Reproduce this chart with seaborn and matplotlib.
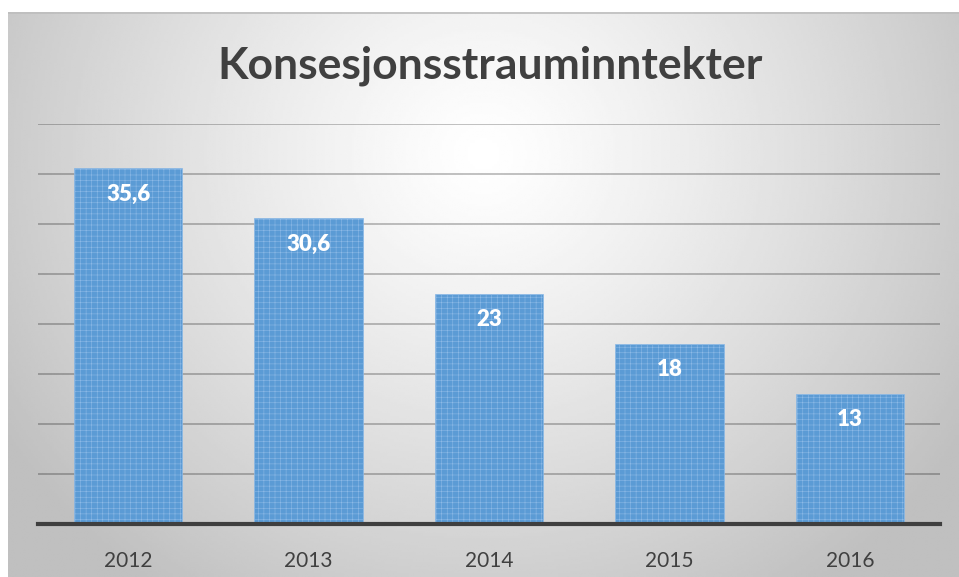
import numpy as np
import matplotlib
matplotlib.use("Agg")
import matplotlib.pyplot as plt
import seaborn as sns

# data
years = ["2012", "2013", "2014", "2015", "2016"]
values = [35.6, 30.6, 23, 18, 13]
value_labels = ["35,6", "30,6", "23", "18", "13"]
title = "Konsesjonsstrauminntekter"

sns.set_style("white")
plt.rcParams["font.family"] = ["Lato", "DejaVu Sans"]
plt.rcParams["hatch.linewidth"] = 0.4

fig = plt.figure(figsize=(9.59, 5.77), dpi=100)
fig.patch.set_facecolor("white")

# radial grey background of the chart box
bg = fig.add_axes([8 / 959, 0, 951 / 959, 565 / 577])
gx, gy = np.meshgrid(np.linspace(0, 1, 400), np.linspace(0, 1, 240))
r = np.sqrt(((gx - 0.5) / 0.6) ** 2 + ((gy - 0.25) / 0.95) ** 2)
shade = 1.0 - 0.25 * np.clip(r, 0, 1) ** 1.2
bg.imshow(shade, cmap="gray", vmin=0, vmax=1, aspect="auto",
          extent=[0, 1, 1, 0], interpolation="bilinear")
bg.set_xlim(0, 1)
bg.set_ylim(1, 0)
bg.axis("off")
bg.plot([0, 1], [0.001, 0.001], color="#bdbdbd", lw=1.2)

ax = fig.add_axes([38 / 959, 1 - 524 / 577, 902 / 959, 400 / 577])
ax.patch.set_alpha(0)
sns.barplot(x=years, y=values, color="#5b9bd5", saturation=1, width=0.6,
            ax=ax, edgecolor="#8cb9e6", linewidth=0.5, hatch="+++", zorder=3)

ax.set_ylim(0, 40)
ax.set_xlim(-0.5, 4.5)
ax.set_yticks(np.arange(5, 41, 5))
ax.yaxis.grid(True, color="black", alpha=0.26, lw=1.3, zorder=0)
ax.set_axisbelow(True)
ax.tick_params(axis="y", left=False, labelleft=False)
ax.tick_params(axis="x", bottom=False, labelsize=15, labelcolor="#404040", pad=16)
ax.set_xlabel("")
ax.set_ylabel("")
for s in ["left", "right", "top"]:
    ax.spines[s].set_visible(False)
ax.spines["bottom"].set_color("#3f3f3f")
ax.spines["bottom"].set_linewidth(3)
ax.spines["bottom"].set_zorder(5)

for i, (v, lab) in enumerate(zip(values, value_labels)):
    ax.text(i, v - 2.6, lab, ha="center", va="center", color="white",
            fontsize=16, fontweight="heavy", zorder=6)

fig.text(490 / 959, 1 - 66 / 577, title, ha="center", va="center",
         fontsize=32, fontweight="bold", color="#404040")

fig.savefig("out.png", dpi=100)
